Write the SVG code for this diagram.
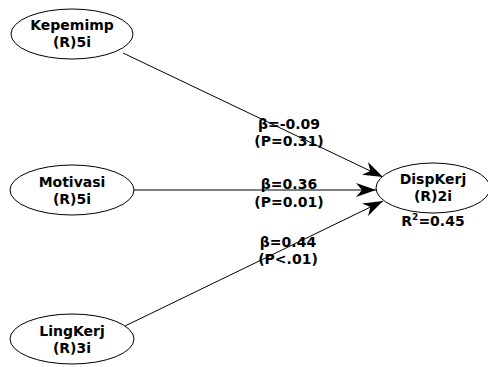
<svg xmlns="http://www.w3.org/2000/svg" width="488" height="367" viewBox="0 0 488 367">
<style>
.n{fill:#fff;stroke:#000;stroke-width:1}
.t{font-family:"DejaVu Sans",Verdana,sans-serif;font-weight:bold;font-size:14px;text-anchor:middle;fill:#000}
.c{stroke:#000;stroke-width:1;fill:none;marker-end:url(#ah)}
</style>
<defs>
<marker id="ah" viewBox="0 0 20 14" refX="20" refY="7" markerWidth="20" markerHeight="14" markerUnits="userSpaceOnUse" orient="auto">
<path d="M0,0 L20,7 L0,14 L6,7 Z" fill="#000"/>
</marker>
</defs>
<rect width="488" height="367" fill="#fff"/>
<g id="connectors">
<line class="c" x1="123" y1="53" x2="383" y2="177"/>
<line class="c" x1="134" y1="190" x2="376" y2="190"/>
<line class="c" x1="125" y1="326" x2="383" y2="201"/>
</g>
<g id="Kepemimp">
<ellipse class="n" cx="72" cy="34" rx="61" ry="25"/>
<text class="t" x="72" y="30">Kepemimp</text>
<text class="t" x="72" y="47">(R)5i</text>
</g>
<g id="Motivasi">
<ellipse class="n" cx="72" cy="190" rx="62" ry="25"/>
<text class="t" x="72" y="187">Motivasi</text>
<text class="t" x="72" y="204">(R)5i</text>
</g>
<g id="LingKerj">
<ellipse class="n" cx="72" cy="339" rx="62" ry="25"/>
<text class="t" x="72" y="336">LingKerj</text>
<text class="t" x="72" y="353">(R)3i</text>
</g>
<g id="DispKerj">
<ellipse class="n" cx="433" cy="188" rx="57" ry="25"/>
<text class="t" x="433" y="184">DispKerj</text>
<text class="t" x="433" y="201">(R)2i</text>
<text class="t" x="433" y="226">R<tspan font-size="9" dy="-6">2</tspan><tspan dy="6">=0.45</tspan></text>
</g>
<g id="labels">
<text class="t" x="289" y="129">β=-0.09</text>
<text class="t" x="289" y="146">(P=0.31)</text>
<text class="t" x="289" y="189">β=0.36</text>
<text class="t" x="289" y="207">(P=0.01)</text>
<text class="t" x="288" y="247">β=0.44</text>
<text class="t" x="288" y="264">(P&lt;.01)</text>
</g>
</svg>
